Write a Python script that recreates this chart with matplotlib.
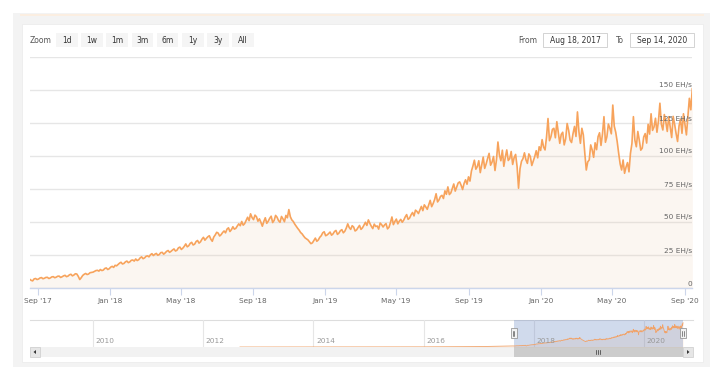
import numpy as np
import pandas as pd
import matplotlib
matplotlib.use("Agg")
import matplotlib.pyplot as plt
from matplotlib.patches import Rectangle, Polygon
from matplotlib.transforms import offset_copy

plt.rcParams['font.family'] = ['DejaVu Sans']

# ---------------- data ----------------
start_date = "2017-08-18"
end_date = "2020-09-14"

# hashrate (EH/s), one reading about every 2.5 days
hashrate = [
    6.6, 5.8, 5.4, 6.9, 7.2, 6.4, 6.8, 7.6, 7.9, 7.0, 7.4, 8.0,
    8.1, 7.2, 7.6, 8.4, 8.6, 7.8, 8.2, 8.9, 9.0, 8.0, 8.5, 9.2,
    9.6, 8.6, 9.0, 10.0, 10.4, 9.2, 9.8, 10.8, 10.6, 8.8, 6.4, 7.8,
    9.5, 10.4, 11.0, 10.2, 10.6, 11.6, 11.8, 12.0, 12.6, 13.2, 13.4, 12.8,
    14.0, 13.2, 13.6, 14.8, 15.2, 14.0, 14.6, 15.8, 16.4, 15.6, 17.2, 16.8,
    17.8, 18.8, 19.5, 18.2, 18.6, 19.8, 20.4, 19.2, 19.8, 21.0, 21.2, 20.4,
    22.0, 20.8, 21.4, 22.8, 23.6, 22.2, 22.8, 24.0, 24.4, 23.6, 25.2, 26.0,
    24.6, 25.6, 26.2, 24.8, 25.4, 26.8, 27.0, 25.6, 26.6, 27.8, 28.4, 27.0,
    27.8, 28.8, 29.6, 28.0, 28.6, 30.4, 31.0, 29.2, 30.2, 31.6, 33.4, 31.2,
    32.0, 33.8, 34.6, 32.6, 33.2, 35.2, 36.0, 34.0, 35.0, 37.0, 38.4, 36.2,
    37.6, 38.8, 39.6, 37.0, 35.4, 38.6, 40.2, 42.2, 41.6, 39.4, 40.4, 42.0,
    43.2, 41.8, 44.6, 45.6, 42.8, 44.2, 46.4, 44.6, 45.2, 47.0, 48.6, 47.2,
    50.4, 47.6, 48.8, 51.2, 53.6, 51.0, 56.2, 53.4, 51.8, 55.2, 54.0, 50.6,
    52.4, 49.8, 46.8, 50.4, 53.2, 49.0, 50.6, 52.8, 54.4, 49.6, 51.2, 55.0,
    53.6, 51.0, 49.8, 54.2, 52.4, 50.2, 55.0, 53.2, 59.4, 54.0, 51.6, 50.4,
    48.4, 46.8, 45.2, 43.8, 42.0, 41.0, 39.4, 38.0, 37.2, 36.4, 35.0, 33.6,
    34.2, 36.0, 37.8, 35.4, 36.4, 38.4, 39.6, 41.8, 42.6, 39.6, 40.2, 41.2,
    42.4, 40.0, 41.0, 42.8, 43.6, 40.6, 41.6, 43.4, 44.2, 41.8, 43.0, 45.4,
    48.6, 45.8, 44.4, 47.2, 46.2, 43.2, 44.0, 45.8, 47.4, 44.4, 45.6, 47.6,
    49.8, 47.4, 51.6, 49.0, 46.8, 45.0, 48.4, 46.6, 47.0, 44.6, 49.2, 48.0,
    46.2, 47.8, 48.8, 44.8, 46.0, 49.6, 53.8, 48.0, 50.4, 52.2, 48.6, 50.6,
    52.0, 49.8, 51.4, 53.8, 55.6, 52.0, 53.0, 55.4, 57.2, 54.6, 59.0, 58.0,
    56.4, 59.0, 61.8, 58.6, 63.0, 61.4, 59.6, 63.0, 66.4, 61.6, 64.0, 67.0,
    71.4, 65.2, 66.8, 69.4, 70.2, 67.8, 73.6, 71.0, 76.6, 70.8, 72.0, 75.4,
    78.8, 73.4, 76.6, 79.6, 80.4, 77.8, 74.6, 79.2, 82.0, 78.6, 84.2, 81.0,
    88.6, 92.4, 96.8, 90.0, 92.0, 96.4, 87.4, 93.2, 99.2, 90.6, 94.0, 98.2,
    102.0, 93.0, 95.4, 99.6, 89.0, 97.0, 110.6, 100.8, 96.4, 104.4, 92.2, 99.0,
    104.6, 96.6, 98.0, 103.4, 93.6, 98.8, 101.2, 92.0, 75.6, 90.4, 96.0, 98.0,
    102.4, 97.2, 94.4, 101.6, 99.6, 92.8, 96.2, 99.6, 104.0, 98.6, 107.0, 104.2,
    112.4, 106.8, 104.6, 114.4, 128.4, 111.6, 114.6, 120.2, 121.0, 113.8, 126.0, 117.6,
    109.6, 116.4, 118.0, 108.4, 113.0, 124.6, 119.6, 112.0, 110.2, 117.0, 122.4, 114.8,
    133.4, 118.4, 109.6, 121.0, 116.0, 102.0, 89.4, 95.6, 97.0, 108.4, 104.6, 99.0,
    110.0, 104.8, 114.6, 117.6, 108.0, 116.8, 129.8, 110.4, 114.6, 124.2, 121.0, 116.8,
    138.6, 122.6, 118.0, 110.8, 102.0, 94.0, 89.4, 97.0, 86.9, 91.6, 95.0, 88.0,
    102.0, 109.4, 129.8, 112.0, 107.0, 118.6, 112.0, 104.4, 106.0, 114.4, 117.0, 109.8,
    124.0, 116.6, 132.0, 119.4, 122.0, 128.6, 118.0, 126.4, 140.0, 124.0, 119.7, 131.4,
    126.0, 118.6, 129.8, 122.0, 114.0, 130.0, 124.0, 117.0, 111.0, 122.8, 128.0, 117.2,
    132.0, 124.2, 116.0, 129.6, 143.7, 135.0, 151.0,
]
dates = pd.date_range(start_date, end_date, periods=len(hashrate))

x_tick_dates = ["2017-09-01", "2018-01-01", "2018-05-01", "2018-09-01",
                "2019-01-01", "2019-05-01", "2019-09-01", "2020-01-01",
                "2020-05-01", "2020-09-01"]
x_tick_labels = ["Sep '17", "Jan '18", "May '18", "Sep '18", "Jan '19",
                 "May '19", "Sep '19", "Jan '20", "May '20", "Sep '20"]
y_ticks = [0, 25, 50, 75, 100, 125, 150, 175]
y_tick_labels = ["0", "25 EH/s", "50 EH/s", "75 EH/s", "100 EH/s",
                 "125 EH/s", "150 EH/s", ""]

# navigator: earlier history (EH/s), essentially flat on this scale
nav_early_dates = ["2012-09-01", "2013-06-01", "2014-01-01", "2014-07-01",
                   "2015-01-01", "2015-07-01", "2016-01-01", "2016-07-01",
                   "2017-01-01", "2017-06-01"]
nav_early_values = [0.02, 0.1, 0.01, 0.12, 0.3, 0.4, 0.8, 1.5, 2.5, 5.5]
nav_year_ticks = ["2010-01-01", "2012-01-01", "2014-01-01", "2016-01-01",
                  "2018-01-01", "2020-01-01"]
nav_year_labels = ["2010", "2012", "2014", "2016", "2018", "2020"]
nav_start = "2008-11-10"
nav_end = "2020-11-19"

zoom_buttons = ["1d", "1w", "1m", "3m", "6m", "1y", "3y", "All"]
from_text = "Aug 18, 2017"
to_text = "Sep 14, 2020"

# ---------------- figure ----------------
W, H = 720, 372
fig = plt.figure(figsize=(W / 100, H / 100), dpi=100)


def rect(x0, y0, x1, y1):
    return [x0 / W, 1 - y1 / H, (x1 - x0) / W, (y1 - y0) / H]


bg = fig.add_axes([0, 0, 1, 1])
bg.set_xlim(0, W)
bg.set_ylim(H, 0)
bg.axis('off')
bg.set_zorder(0)

bg.add_patch(Rectangle((13, 13), 697, 354, fc='#f3f3f3', ec='none'))
bg.add_patch(Rectangle((20, 13.5), 684, 2.8, fc='#fbeee1', ec='none'))
bg.add_patch(Rectangle((22, 24), 681, 338, fc='white', ec='#ececec', lw=0.6))

# range selector
bg.text(30, 40.5, "Zoom", fontsize=5.5, color='#555555', ha='left', va='center')
for i, lab in enumerate(zoom_buttons):
    bx = 56 + i * 25.2
    bg.add_patch(Rectangle((bx, 33), 21.5, 14, fc='#f5f5f5', ec='none'))
    bg.text(bx + 10.75, 40.5, lab, fontsize=5.5, color='#333333',
            ha='center', va='center')

bg.text(537, 40.5, "From", fontsize=5.5, color='#555555', ha='right', va='center')
bg.add_patch(Rectangle((543, 33), 64, 14, fc='white', ec='#cccccc', lw=0.6))
bg.text(575, 40.5, from_text, fontsize=5.5, color='#333333', ha='center', va='center')
bg.text(620, 40.5, "To", fontsize=5.5, color='#555555', ha='center', va='center')
bg.add_patch(Rectangle((630, 33), 64, 14, fc='white', ec='#cccccc', lw=0.6))
bg.text(662, 40.5, to_text, fontsize=5.5, color='#333333', ha='center', va='center')

# ---------------- main chart ----------------
ax = fig.add_axes(rect(29.7, 57, 692.3, 288))
ax.set_zorder(1)
ax.patch.set_visible(False)
ax.fill_between(dates, hashrate, 0, color='#e8c8a8', alpha=0.16, lw=0)
ax.plot(dates, hashrate, color='#f7a35c', lw=1.2, solid_joinstyle='round')
ax.set_xlim(pd.Timestamp(start_date), pd.Timestamp(end_date))
ax.set_ylim(0, 175)
ax.set_yticks(y_ticks)
ax.yaxis.grid(True, color='#e6e6e6', lw=1)
ax.set_axisbelow(True)
ax.tick_params(axis='y', length=0, labelleft=False)
for s in ['top', 'left', 'right']:
    ax.spines[s].set_visible(False)
ax.spines['bottom'].set_color('#ccd6eb')
ax.spines['bottom'].set_linewidth(1)
ax.set_xticks(pd.to_datetime(x_tick_dates))
ax.set_xticklabels(x_tick_labels, fontsize=5.3, color='#666666')
ax.tick_params(axis='x', length=5, color='#ccd6eb', pad=2)

ylab_tr = offset_copy(ax.get_yaxis_transform(), fig=fig, x=0, y=2.5, units='dots')
for v, lab in zip(y_ticks, y_tick_labels):
    if lab:
        ax.text(1.0, v, lab, transform=ylab_tr, fontsize=5.3, color='#666666',
                ha='right', va='baseline')

# ---------------- navigator ----------------
nav = fig.add_axes(rect(30, 320, 693, 347))
nav.set_zorder(1)
nav.patch.set_visible(False)
nav_dates = list(pd.to_datetime(nav_early_dates)) + list(dates)
nav_values = list(nav_early_values) + list(hashrate)
nav.set_xlim(pd.Timestamp(nav_start), pd.Timestamp(nav_end))
nav.set_ylim(0, 168)
for d in pd.to_datetime(nav_year_ticks):
    nav.axvline(d, color='#e6e6e6', lw=0.8, zorder=0)
nav.fill_between(nav_dates, nav_values, 0, color='#f7a35c', alpha=0.13, lw=0)
nav.plot(nav_dates, nav_values, color='#f0a36a', lw=0.6)
nav.axvspan(pd.Timestamp(start_date), pd.Timestamp(end_date),
            color='#6685c2', alpha=0.3, lw=0)
lab_tr = offset_copy(nav.get_xaxis_transform(), fig=fig, x=2.5, y=0, units='dots')
for d, lab in zip(pd.to_datetime(nav_year_ticks), nav_year_labels):
    nav.text(d, 0.22, lab, transform=lab_tr, fontsize=5.3, color='#999999',
             ha='left', va='center')
nav.set_xticks([])
nav.set_yticks([])
for s in nav.spines.values():
    s.set_visible(False)
bg.plot([30, 693], [320, 320], color='#dddddd', lw=0.8)

# pixel positions of the selected range in the navigator
t0 = pd.Timestamp(nav_start)
t1 = pd.Timestamp(nav_end)


def nav_px(d):
    return 30 + (pd.Timestamp(d) - t0) / (t1 - t0) * 663


sx0, sx1 = nav_px(start_date), nav_px(end_date)

# scrollbar
bg.add_patch(Rectangle((30, 347), 663, 10, fc='#f2f2f2', ec='none'))
bg.add_patch(Rectangle((sx0, 347), sx1 - sx0, 10, fc='#cccccc', ec='none'))
gx = (sx0 + sx1) / 2
for dx in (-2, 0, 2):
    bg.plot([gx + dx, gx + dx], [350, 354], color='#333333', lw=0.5)
bg.add_patch(Rectangle((30, 347), 10, 10, fc='#e6e6e6', ec='#cccccc', lw=0.5))
bg.add_patch(Rectangle((683, 347), 10, 10, fc='#e6e6e6', ec='#cccccc', lw=0.5))
bg.add_patch(Polygon([[36, 350], [36, 354], [33.5, 352]], closed=True, fc='#333333', ec='none'))
bg.add_patch(Polygon([[687, 350], [687, 354], [689.5, 352]], closed=True, fc='#333333', ec='none'))

# handles (drawn on an overlay so they sit above the navigator)
ov = fig.add_axes([0, 0, 1, 1])
ov.set_xlim(0, W)
ov.set_ylim(H, 0)
ov.axis('off')
ov.set_zorder(3)
for hx in (sx0, sx1):
    ov.add_patch(Rectangle((hx - 3, 328), 6, 10, fc='#f2f2f2', ec='#999999', lw=0.6))
    ov.plot([hx - 0.8, hx - 0.8], [330.5, 335.5], color='#333333', lw=0.4)
    ov.plot([hx + 0.8, hx + 0.8], [330.5, 335.5], color='#333333', lw=0.4)

fig.savefig("out.png", dpi=100)
